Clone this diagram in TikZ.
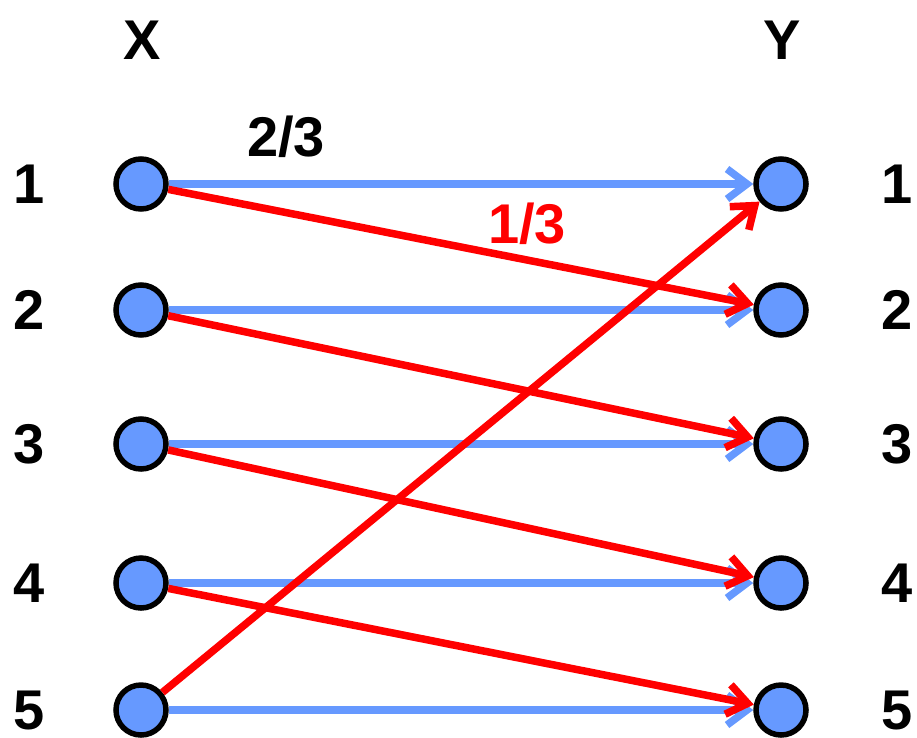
\documentclass[tikz,border=0pt]{standalone}
\usepackage{fontspec}
\setmainfont{Liberation Sans}
\usetikzlibrary{arrows.meta}
\definecolor{nodeblue}{HTML}{6699FF}
\begin{document}
\begin{tikzpicture}[x=1pt,y=-1pt,
        dot/.style={circle,draw=black,line width=5.5pt,fill=nodeblue,minimum size=50pt,inner sep=0pt},
        lbl/.style={inner sep=0pt,font=\fontsize{56}{60}\selectfont\bfseries},
        tip/.style={-{Straight Barb[length=20pt,width=30pt]}},
        keep/.style={tip,draw=nodeblue,line width=7.5pt},
        move/.style={tip,draw=red,line width=7.5pt}]
    \useasboundingbox (0,0) rectangle (917,737);
    \node[lbl] (headx) at (142,40) {X};
    \node[lbl] (heady) at (782,40) {Y};
    \foreach \i/\y in {1/184,2/310,3/444,4/583,5/710} {
        \node[lbl] (lx\i) at (29,\y) {\i};
        \node[lbl] (ly\i) at (897,\y) {\i};
        \node[dot] (x\i) at (141,\y) {};
        \node[dot] (y\i) at (781,\y) {};
    }
    \foreach \i in {1,...,5}
        \draw[keep] (x\i) -- (y\i);
    \foreach \i/\j in {1/2,2/3,3/4,4/5,5/1}
        \draw[move] (x\i) -- (y\j);
    \node[lbl] (stay) at (286,137) {2/3};
    \node[lbl,text=red] (go) at (527,224) {1/3};
\end{tikzpicture}
\end{document}
